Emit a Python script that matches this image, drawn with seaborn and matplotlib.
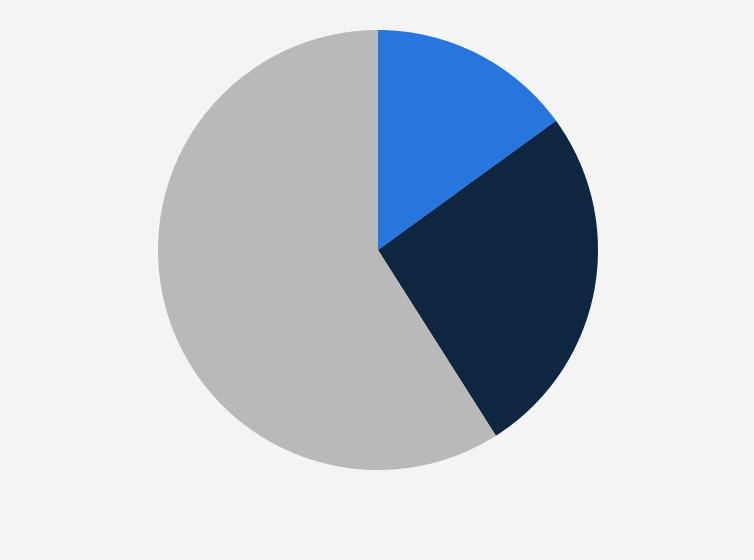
import matplotlib
matplotlib.use("Agg")
import matplotlib.pyplot as plt
import seaborn as sns

# slice data, clockwise from 12 o'clock
labels = ["Segment A", "Segment B", "Segment C"]
shares = [15, 26, 59]
colors = ["#2876dd", "#0f2640", "#b9b9b9"]

sns.set_theme(style="white")

fig = plt.figure(figsize=(7.54, 5.6), dpi=100)
fig.patch.set_facecolor("#f4f4f4")

# axes placed so the pie sits at the reference position (px 158..598 x 30..470)
ax = fig.add_axes([158 / 754, 90 / 560, 440 / 754, 440 / 560])
ax.set_facecolor("#f4f4f4")

ax.pie(shares, labels=None, colors=colors, startangle=90, counterclock=False,
       radius=1.0, wedgeprops=dict(linewidth=0))
ax.set_xlim(-1, 1)
ax.set_ylim(-1, 1)
ax.set_aspect("equal")
ax.axis("off")

fig.savefig("out.png", dpi=100, facecolor=fig.get_facecolor())
